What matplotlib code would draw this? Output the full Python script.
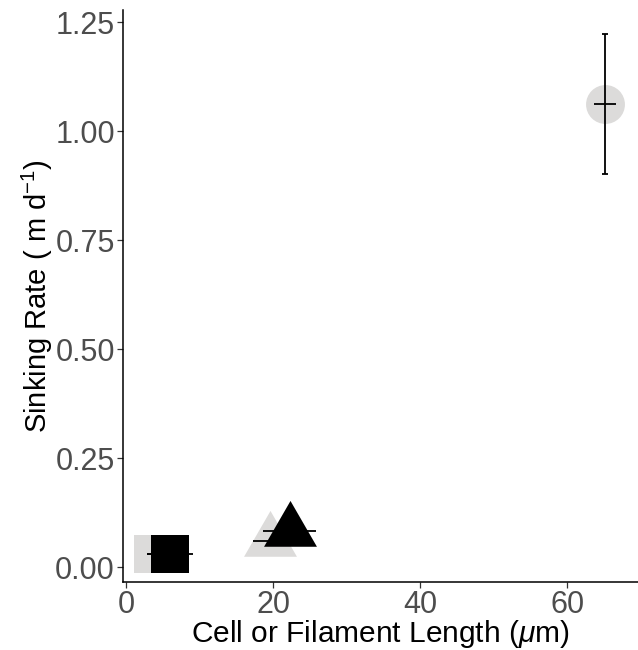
import matplotlib
matplotlib.use("Agg")
import matplotlib.pyplot as plt

plt.rcParams["font.family"] = ["Liberation Sans", "DejaVu Sans"]
plt.rcParams["mathtext.fontset"] = "custom"
plt.rcParams["mathtext.rm"] = "Liberation Sans"
plt.rcParams["mathtext.it"] = "Liberation Sans:italic"

# ---- data ----
grey_x = [65.1, 3.6, 19.5]
grey_y = [1.062, 0.030, 0.060]
grey_xerr = [1.5, 0.8, 2.3]
grey_yerr_lo = [0.160, 0.0, 0.0]
grey_yerr_hi = [0.160, 0.0, 0.0]
grey_shape = ["circle", "square", "triangle"]

black_x = [5.9, 22.2]
black_y = [0.030, 0.083]
black_xerr = [3.1, 3.6]
black_shape = ["square", "triangle"]

x_ticks = [0, 20, 40, 60]
y_ticks = [0.00, 0.25, 0.50, 0.75, 1.00, 1.25]

HEX_GREY = "#DCDBDA"
HEX_BLACK = "#000000"
TRI = [(-1.0, -0.577), (1.0, -0.577), (0.0, 1.155)]
MARKERS = {"circle": ("o", 28), "square": ("s", 28), "triangle": (TRI, 44)}

fig = plt.figure(figsize=(6.38, 6.5), dpi=100)
ax = fig.add_axes([0.1933, 0.1046, 0.8067, 0.88])


def draw_group(xs, ys, xerr, shapes, color, yerr_lo=None, yerr_hi=None):
    for i, (x, y, s) in enumerate(zip(xs, ys, shapes)):
        m, ms = MARKERS[s]
        ax.plot([x], [y], marker=m, markersize=ms, color=color,
                markeredgewidth=0, linestyle="none", zorder=2)
        ax.errorbar([x], [y], xerr=[xerr[i]], fmt="none", ecolor="black",
                    elinewidth=1.3, capsize=0, zorder=3)
        if yerr_lo is not None and (yerr_lo[i] > 0 or yerr_hi[i] > 0):
            ax.errorbar([x], [y], yerr=[[yerr_lo[i]], [yerr_hi[i]]], fmt="none",
                        ecolor="black", elinewidth=1.3, capsize=2.5,
                        capthick=1.3, zorder=3)


draw_group(grey_x, grey_y, grey_xerr, grey_shape, HEX_GREY, grey_yerr_lo, grey_yerr_hi)
draw_group(black_x, black_y, black_xerr, black_shape, HEX_BLACK)

ax.set_xlim(-0.41, 69.6)
ax.set_ylim(-0.034, 1.278)
ax.set_xticks(x_ticks)
ax.set_yticks(y_ticks)
ax.set_yticklabels([f"{v:.2f}" for v in y_ticks])

for side in ["top", "right"]:
    ax.spines[side].set_visible(False)
for side in ["left", "bottom"]:
    ax.spines[side].set_linewidth(1.1)
    ax.spines[side].set_color("black")

ax.tick_params(axis="both", length=4, width=0.9, color="#333333",
               labelsize=22, labelcolor="#4D4D4D", pad=2)

ax.set_xlabel(r"Cell or Filament Length ($\mu$m)", fontsize=21.5, color="black", labelpad=-2)
ax.set_ylabel(r"Sinking Rate ( m d$^{-1}$)", fontsize=21, color="black", labelpad=0)

fig.savefig("out.png", dpi=100)
